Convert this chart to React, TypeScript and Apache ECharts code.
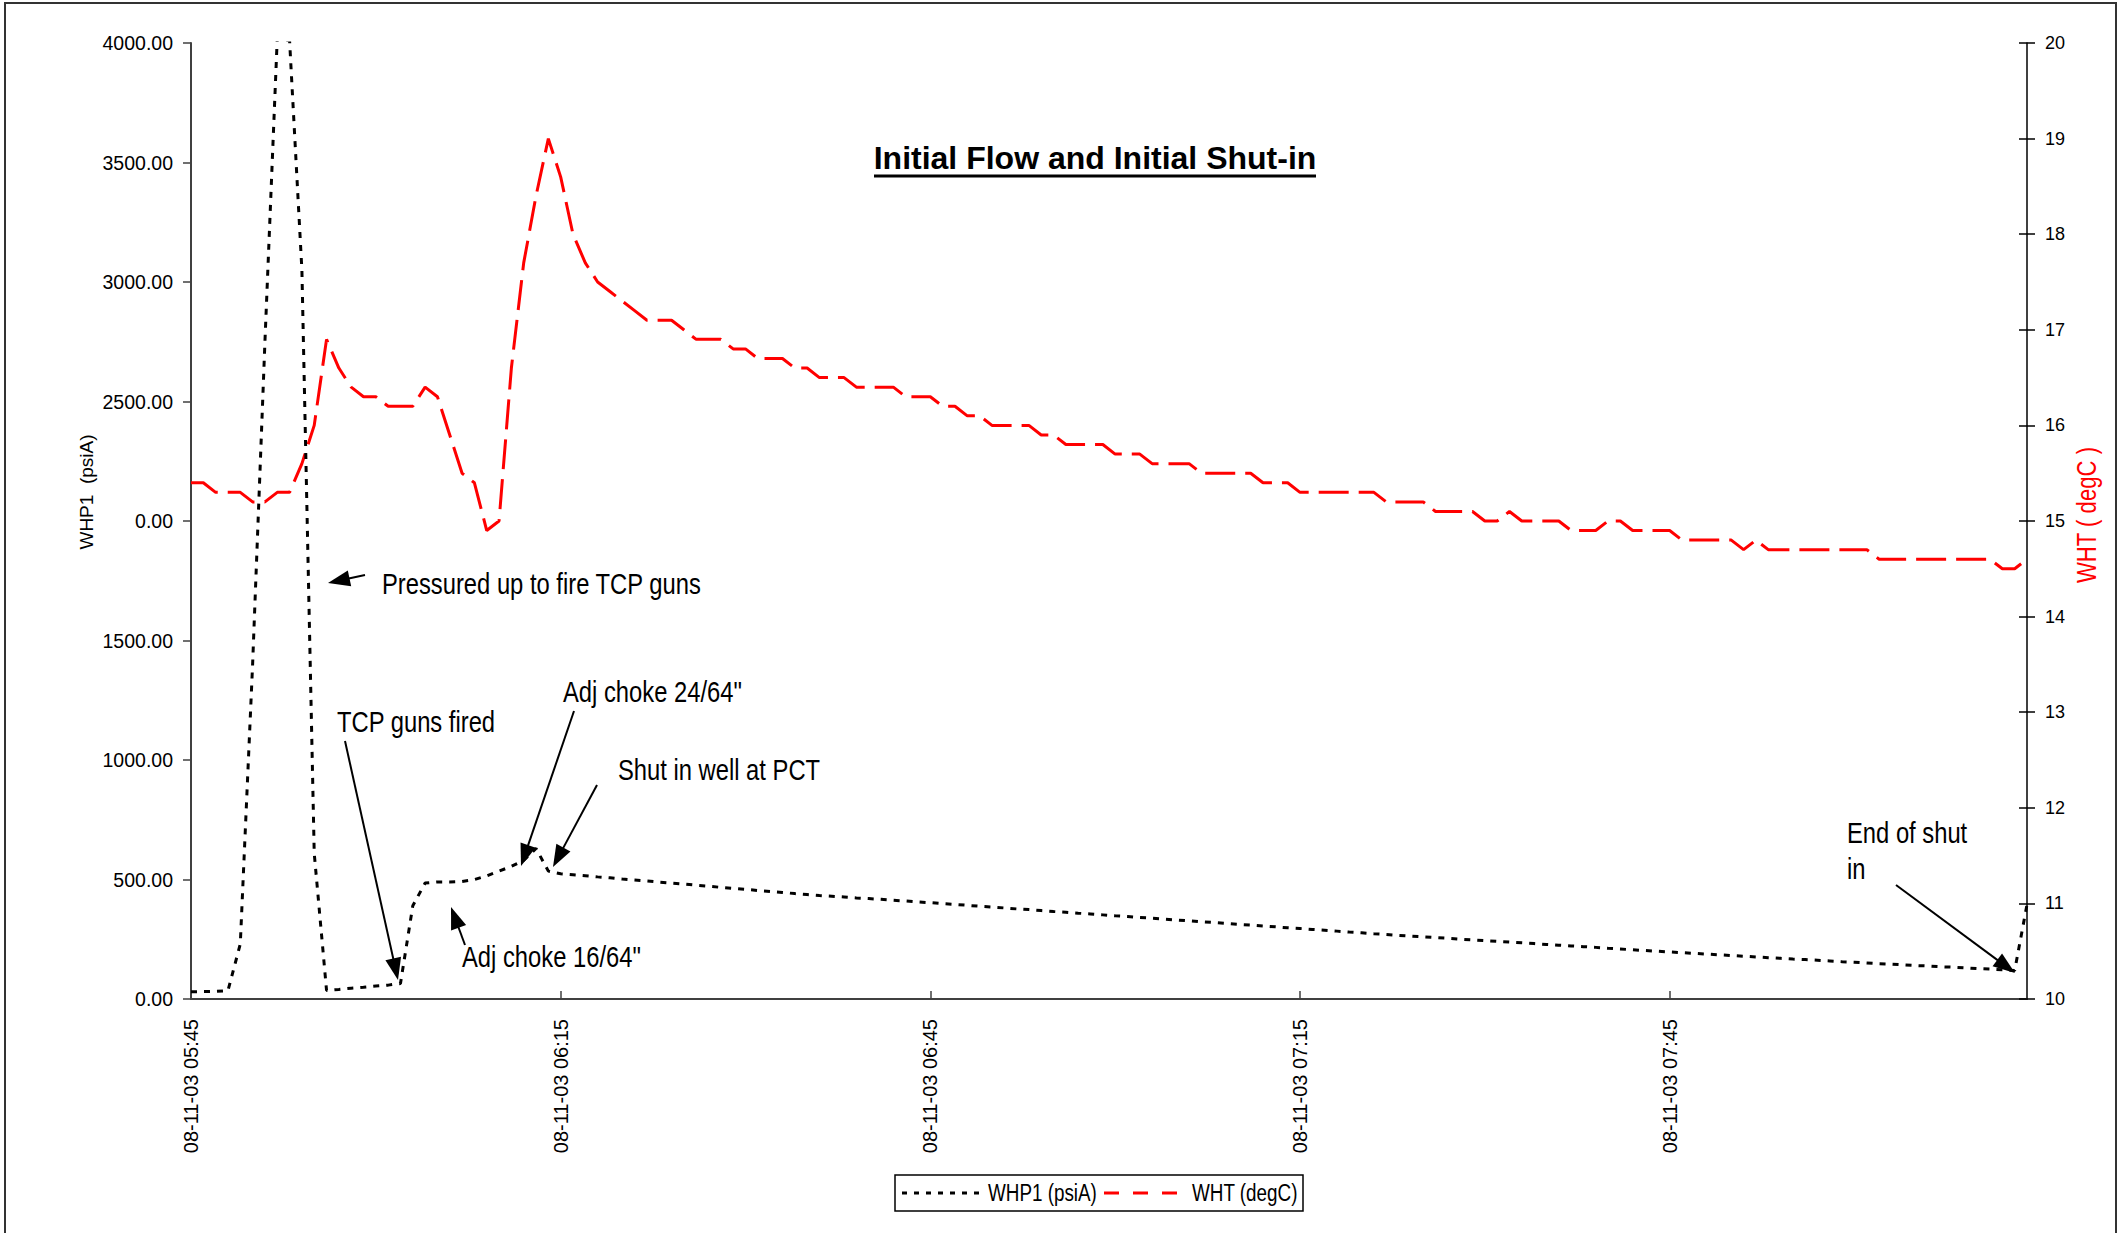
import React, { useEffect, useRef } from "react";
import * as echarts from "echarts";

// ---------- data ----------
const datePrefix = "08-11-03";
const startMinutes = 5 * 60 + 45; // 05:45, one reading per minute
const pointCount = 150;
const categories: string[] = [];
for (let i = 0; i < pointCount; i++) {
  const m = startMinutes + i;
  const hh = String(Math.floor(m / 60)).padStart(2, "0");
  const mm = String(m % 60).padStart(2, "0");
  categories.push(`${datePrefix} ${hh}:${mm}`);
}

// WHP1 (psiA), left axis
const whp1 = [
  30, 31, 32, 35, 230, 1400, 2750, 4020, 4010, 3050,
  610, 36, 40, 45, 49, 54, 58, 65, 390, 485,
  490, 490, 492, 500, 515, 535, 555, 580, 630, 535,
  524, 520, 516, 511, 507, 502, 498, 494, 489, 485,
  481, 476, 472, 467, 463, 459, 454, 450, 446, 441,
  437, 433, 430, 427, 423, 420, 417, 413, 410, 406,
  403, 399, 396, 392, 388, 385, 381, 377, 374, 370,
  366, 363, 359, 356, 352, 348, 345, 341, 338, 334,
  330, 327, 323, 320, 316, 312, 309, 305, 302, 298,
  295, 291, 288, 284, 280, 277, 273, 270, 266, 263,
  260, 257, 254, 250, 247, 244, 241, 238, 235, 232,
  228, 225, 222, 219, 216, 212, 209, 206, 203, 200,
  197, 194, 191, 188, 185, 182, 179, 176, 173, 170,
  167, 165, 162, 159, 156, 154, 151, 148, 146, 143,
  140, 138, 135, 133, 130, 127, 125, 122, 119, 395,
];

// WHT (degC), right axis
const wht = [
  15.4, 15.4, 15.3, 15.3, 15.3, 15.2, 15.2, 15.3, 15.3, 15.6,
  16.0, 16.9, 16.6, 16.4, 16.3, 16.3, 16.2, 16.2, 16.2, 16.4,
  16.3, 15.9, 15.5, 15.4, 14.9, 15.0, 16.6, 17.7, 18.4, 19.0,
  18.6, 18.0, 17.7, 17.5, 17.4, 17.3, 17.2, 17.1, 17.1, 17.1,
  17.0, 16.9, 16.9, 16.9, 16.8, 16.8, 16.7, 16.7, 16.7, 16.6,
  16.6, 16.5, 16.5, 16.5, 16.4, 16.4, 16.4, 16.4, 16.3, 16.3,
  16.3, 16.2, 16.2, 16.1, 16.1, 16.0, 16.0, 16.0, 16.0, 15.9,
  15.9, 15.8, 15.8, 15.8, 15.8, 15.7, 15.7, 15.7, 15.6, 15.6,
  15.6, 15.6, 15.5, 15.5, 15.5, 15.5, 15.5, 15.4, 15.4, 15.4,
  15.3, 15.3, 15.3, 15.3, 15.3, 15.3, 15.3, 15.2, 15.2, 15.2,
  15.2, 15.1, 15.1, 15.1, 15.1, 15.0, 15.0, 15.1, 15.0, 15.0,
  15.0, 15.0, 14.9, 14.9, 14.9, 15.0, 15.0, 14.9, 14.9, 14.9,
  14.9, 14.8, 14.8, 14.8, 14.8, 14.8, 14.7, 14.8, 14.7, 14.7,
  14.7, 14.7, 14.7, 14.7, 14.7, 14.7, 14.7, 14.6, 14.6, 14.6,
  14.6, 14.6, 14.6, 14.6, 14.6, 14.6, 14.6, 14.5, 14.5, 14.6,
];

// tick labels as printed in the original
const leftTickLabels = [
  "0.00", "500.00", "1000.00", "1500.00", "0.00",
  "2500.00", "3000.00", "3500.00", "4000.00",
];
const rightTickLabels = ["10", "11", "12", "13", "14", "15", "16", "17", "18", "19", "20"];

const titleText = "Initial Flow and Initial Shut-in";
const seriesNames = ["WHP1 (psiA)", "WHT (degC)"];
const leftAxisTitle = "WHP1  (psiA)";
const rightAxisTitle = "WHT ( degC )";

const annotationTexts = [
  "Pressured up to fire TCP guns",
  "TCP guns fired",
  'Adj choke 24/64"',
  "Shut in well at PCT",
  'Adj choke 16/64"',
  "End of shut",
  "in",
];

// ---------- styling ----------
const SANS = '"Liberation Sans", Arial, sans-serif';
const NARROW_SCALE = 0.82; // emulate a condensed face by squeezing Liberation Sans

function arrow(x1: number, y1: number, x2: number, y2: number) {
  const dx = x2 - x1;
  const dy = y2 - y1;
  const len = Math.hypot(dx, dy);
  const ux = dx / len;
  const uy = dy / len;
  const hl = 22;
  const hw = 8;
  const bx = x2 - ux * hl;
  const by = y2 - uy * hl;
  return [
    {
      type: "line",
      shape: { x1, y1, x2: bx + ux * 2, y2: by + uy * 2 },
      style: { stroke: "#000", lineWidth: 2 },
      silent: true,
    },
    {
      type: "polygon",
      shape: {
        points: [
          [x2, y2],
          [bx - uy * hw, by + ux * hw],
          [bx + uy * hw, by - ux * hw],
        ],
      },
      style: { fill: "#000" },
      silent: true,
    },
  ];
}

function narrowText(
  text: string,
  x: number,
  y: number,
  size: number,
  opts: { fill?: string; align?: string; rotation?: number } = {}
) {
  return {
    type: "text",
    x,
    y,
    rotation: opts.rotation || 0,
    scaleX: NARROW_SCALE,
    scaleY: 1,
    style: {
      text,
      font: `${size}px ${SANS}`,
      fill: opts.fill || "#000",
      align: opts.align || "left",
      verticalAlign: "middle",
    },
    silent: true,
  };
}

export default function App() {
  const ref = useRef<HTMLDivElement>(null);

  useEffect(() => {
    if (!ref.current) return;
    const chart = echarts.init(ref.current, undefined, { renderer: "svg" });

    const graphics: any[] = [
      // outer frame
      {
        type: "rect",
        shape: { x: 5, y: 3, width: 2111, height: 1245 },
        style: { fill: "none", stroke: "#333", lineWidth: 2 },
        silent: true,
        z: -10,
      },
      // title
      {
        type: "text",
        x: 1095,
        y: 158,
        style: {
          text: titleText,
          font: `bold 32px ${SANS}`,
          fill: "#000",
          align: "center",
          verticalAlign: "middle",
        },
        silent: true,
      },
      {
        type: "line",
        shape: { x1: 874, y1: 176, x2: 1316, y2: 176 },
        style: { stroke: "#000", lineWidth: 3 },
        silent: true,
      },
      // axis titles
      {
        type: "text",
        x: 86,
        y: 492,
        rotation: Math.PI / 2,
        style: {
          text: leftAxisTitle,
          font: `19px ${SANS}`,
          fill: "#000",
          align: "center",
          verticalAlign: "middle",
        },
        silent: true,
      },
      narrowText(rightAxisTitle, 2087, 515, 27, {
        fill: "#ff0000",
        align: "center",
        rotation: Math.PI / 2,
      }),
      // annotations
      narrowText(annotationTexts[0], 382, 584, 29),
      ...arrow(365, 575, 328, 583),
      narrowText(annotationTexts[1], 337, 722, 29),
      ...arrow(345, 741, 398, 980),
      narrowText(annotationTexts[2], 563, 692, 29),
      ...arrow(574, 711, 521, 866),
      narrowText(annotationTexts[3], 618, 770, 29),
      ...arrow(597, 785, 553, 867),
      narrowText(annotationTexts[4], 462, 957, 29),
      ...arrow(465, 945, 451, 907),
      narrowText(annotationTexts[5], 1847, 833, 29),
      narrowText(annotationTexts[6], 1847, 869, 29),
      ...arrow(1896, 885, 2015, 973),
      // legend
      {
        type: "rect",
        shape: { x: 895, y: 1175, width: 408, height: 36 },
        style: { fill: "#fff", stroke: "#000", lineWidth: 1.5 },
        silent: true,
      },
      {
        type: "line",
        shape: { x1: 902, y1: 1193, x2: 984, y2: 1193 },
        style: { stroke: "#000", lineWidth: 3, lineDash: [5, 7] },
        silent: true,
      },
      narrowText(seriesNames[0], 988, 1193, 23),
      {
        type: "line",
        shape: { x1: 1104, y1: 1193, x2: 1180, y2: 1193 },
        style: { stroke: "#ff0000", lineWidth: 3, lineDash: [15, 14] },
        silent: true,
      },
      narrowText(seriesNames[1], 1192, 1193, 23),
    ];

    chart.setOption({
      animation: false,
      backgroundColor: "#fff",
      grid: { left: 191, top: 43, width: 1836, height: 956, containLabel: false },
      xAxis: {
        type: "category",
        data: categories,
        boundaryGap: false,
        axisLine: { lineStyle: { color: "#404040", width: 2 } },
        axisTick: {
          inside: true,
          length: 8,
          interval: 29,
          lineStyle: { color: "#404040", width: 1.5 },
        },
        axisLabel: {
          interval: 29,
          rotate: 90,
          margin: 20,
          color: "#000",
          fontFamily: SANS,
          fontSize: 20,
        },
        splitLine: { show: false },
      },
      yAxis: [
        {
          type: "value",
          position: "left",
          min: 0,
          max: 4000,
          interval: 500,
          axisLine: { show: true, lineStyle: { color: "#404040", width: 2 } },
          axisTick: { show: true, length: 8, lineStyle: { color: "#404040", width: 1.5 } },
          axisLabel: {
            margin: 18,
            color: "#000",
            fontFamily: SANS,
            fontSize: 19.5,
            formatter: (_v: number, i: number) => leftTickLabels[i],
          },
          splitLine: { show: false },
        },
        {
          type: "value",
          position: "right",
          min: 10,
          max: 20,
          interval: 1,
          axisLine: { show: true, lineStyle: { color: "#000", width: 1.5 } },
          axisTick: { show: true, length: 8, lineStyle: { color: "#000", width: 1.5 } },
          axisLabel: {
            margin: 18,
            color: "#000",
            fontFamily: SANS,
            fontSize: 18,
            formatter: (_v: number, i: number) => rightTickLabels[i],
          },
          splitLine: { show: false },
        },
        {
          type: "value",
          position: "right",
          min: 10,
          max: 20,
          interval: 1,
          axisLine: { show: false },
          axisTick: { show: true, inside: true, length: 8, lineStyle: { color: "#000", width: 1.5 } },
          axisLabel: { show: false },
          splitLine: { show: false },
        },
      ],
      series: [
        {
          name: seriesNames[0],
          type: "line",
          yAxisIndex: 0,
          data: whp1,
          symbol: "none",
          showSymbol: false,
          clip: true,
          lineStyle: { color: "#000", width: 3, type: [6, 7] },
          z: 3,
        },
        {
          name: seriesNames[1],
          type: "line",
          yAxisIndex: 1,
          data: wht,
          symbol: "none",
          showSymbol: false,
          clip: true,
          lineStyle: { color: "#ff0000", width: 3, type: [30, 10] },
          z: 2,
        },
      ],
      graphic: graphics,
    });

    return () => chart.dispose();
  }, []);

  return (
    <div
      ref={ref}
      style={{ position: "absolute", left: 0, top: 0, width: 2125, height: 1233, background: "#fff" }}
    />
  );
}
